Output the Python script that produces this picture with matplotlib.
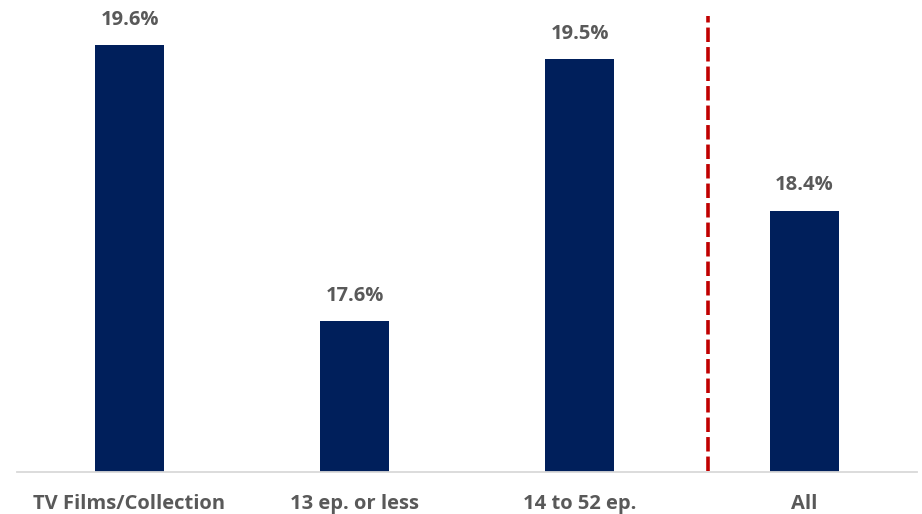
import matplotlib
matplotlib.use("Agg")
import matplotlib.pyplot as plt
from matplotlib import font_manager

categories = ["TV Films/Collection", "13 ep. or less", "14 to 52 ep.", "All"]
values = [19.6, 17.6, 19.5, 18.4]
value_labels = ["19.6%", "17.6%", "19.5%", "18.4%"]

bar_color = "#001F5B"
text_color = "#595959"
divider_color = "#C00000"

installed = {f.name for f in font_manager.fontManager.ttflist}
tick_family = [f for f in ["Liberation Sans Narrow", "Open Sans", "DejaVu Sans"] if f in installed]
label_family = [f for f in ["Open Sans", "DejaVu Sans"] if f in installed]

fig = plt.figure(figsize=(9.22, 5.14), dpi=100)
ax = fig.add_axes([17 / 922, 42.5 / 514, 900 / 922, 471.5 / 514])

x = list(range(len(categories)))
ax.bar(x, values, width=0.31, color=bar_color, zorder=2)

for xi, v, lab in zip(x, values, value_labels):
    ax.annotate(lab, (xi, v), xytext=(0, 11), textcoords="offset points",
                ha="center", va="bottom", fontsize=14.5, fontweight="bold",
                color=text_color, family=label_family, annotation_clip=False)

# dashed divider separating the overall figure from the breakdown
ax.plot([2.573, 2.573], [16.512, 19.81], color=divider_color, lw=2.6,
        dashes=(4.0, 1.4), zorder=3, clip_on=False)

ax.set_xlim(-0.5, 3.5)
ax.set_ylim(16.512, 19.926)

for side in ["top", "right", "left"]:
    ax.spines[side].set_visible(False)
ax.spines["bottom"].set_color("#D9D9D9")
ax.spines["bottom"].set_linewidth(1.3)
ax.set_yticks([])
ax.set_xticks(x)
ax.set_xticklabels(categories, fontsize=14.5, fontweight="bold", color=text_color,
                   family=tick_family)
ax.tick_params(axis="x", length=0, pad=16)

fig.savefig("out.png", dpi=100)
